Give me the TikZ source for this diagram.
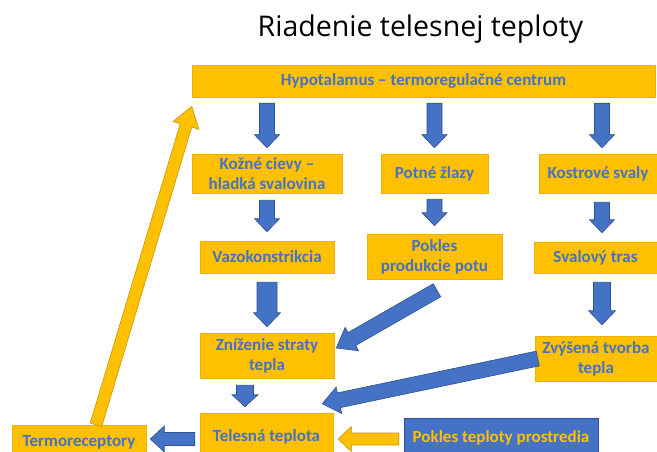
\documentclass[tikz,border=0pt]{standalone}
\usepackage{fontspec}
\setmainfont{Carlito}
\newfontfamily\titlefont{Open Sans}
\usetikzlibrary{calc}
\definecolor{gold}{HTML}{FFC000}
\definecolor{goldline}{HTML}{EDB200}
\definecolor{goldarrline}{HTML}{C99700}
\definecolor{bblue}{HTML}{4472C4}
\definecolor{bblueline}{HTML}{2F528F}
% #1 style, #2 from, #3 to, #4 half shaft, #5 half head, #6 head length, #7 shorten start, #8 shorten end
\newcommand\blockarrow[8]{%
  \draw[#1] let \p1=($(#3)-(#2)$), \n1={veclen(\x1,\y1)}, \n2={atan2(\y1,\x1)} in
    [shift={(#2)}, rotate=\n2]
    (#7pt,-#4pt) -- ({\n1-#8pt-#6pt},-#4pt) -- ({\n1-#8pt-#6pt},-#5pt) -- ({\n1-#8pt},0pt)
    -- ({\n1-#8pt-#6pt},#5pt) -- ({\n1-#8pt-#6pt},#4pt) -- (#7pt,#4pt) -- cycle;}
\tikzset{
  box/.style={fill=gold, draw=goldline, line width=0.5pt, text=bblue, align=center,
    inner sep=0pt, font=\bfseries\fontsize{17}{20}\selectfont},
  bluebox/.style={box, fill=bblue, draw=bblueline, text=gold},
  bluearr/.style={fill=bblue, draw=bblueline, line width=0.6pt, line join=miter},
  goldarr/.style={fill=gold, draw=goldarrline, line width=0.6pt, line join=miter},
  titletext/.style={font=\titlefont\fontsize{28.5}{32}\selectfont, text=black, inner sep=0pt, anchor=base},
}
\begin{document}
\begin{tikzpicture}[x=1pt, y=-1pt]
\useasboundingbox (0,0) rectangle (657,452);
\fill[white] (0,0) rectangle (657,452);
\clip (0,0) rectangle (657,452);

\node[titletext] (ttl) at (420.5,36.5) {Riadenie telesnej teploty};

\node[box, minimum width=463pt, minimum height=32pt] (hyp) at (423.5,81) {Hypotalamus – termoregulačné centrum};

\node[box, minimum width=150pt, minimum height=39pt] (koz) at (267,173.5) {Kožné cievy –\\hladká svalovina};
\node[box, minimum width=107pt, minimum height=39pt] (pot) at (434.5,173.5) {Potné žlazy};
\node[box, minimum width=118pt, minimum height=39pt] (kos) at (598,173.5) {Kostrové svaly};

\node[box, minimum width=134pt, minimum height=32pt] (vaz) at (267,257) {Vazokonstrikcia};
\node[box, minimum width=135pt, minimum height=45pt] (pok) at (434.5,256.5) {Pokles\\produkcie potu};
\node[box, minimum width=123pt, minimum height=31pt] (sva) at (595.5,257.5) {Svalový tras};

\node[box, minimum width=134pt, minimum height=45pt] (zni) at (267,355.5) {Zníženie straty\\tepla};
\node[box, minimum width=122pt, minimum height=45pt] (zvy) at (596,358.5) {Zvýšená tvorba\\tepla};

\node[box, minimum width=133pt, minimum height=48pt] (tel) at (266.5,437) {Telesná teplota};
\node[box, minimum width=134pt, minimum height=34pt] (ter) at (79,442) {Termoreceptory};
\node[bluebox, minimum width=194pt, minimum height=40pt] (pts) at (501,438) {Pokles teploty prostredia};

% helper coordinates
\coordinate (kx) at ($(kos.north)+(4,0)$);
\coordinate (zx) at ($(zni.south)+(-22,0)$);
\coordinate (ty) at ($(tel.west)+(0,2)$);
\coordinate (pokt) at ($(pok.south)+(2.5,11)$);
\coordinate (znih) at ($(zni.east)+(2,-7.5)$);
\coordinate (zvyt) at ($(zvy.west)+(3,0)$);
\coordinate (telh) at ($(tel.north east)+(-11,-9)$);
\coordinate (tert) at ($(ter.north)+(17,0)$);
\coordinate (hyph) at ($(hyp.south west)+(0,9)$);

% connectors
\blockarrow{bluearr}{hyp.south -| koz.north}{koz.north}{7.5}{12.5}{13}{6}{6}
\blockarrow{bluearr}{hyp.south -| pot.north}{pot.north}{7.5}{12.5}{13}{6}{6}
\blockarrow{bluearr}{hyp.south -| kx}{kx}{7.5}{12.5}{13}{6}{6}

\blockarrow{bluearr}{koz.south}{vaz.north}{7.5}{12.5}{13}{7}{9}
\blockarrow{bluearr}{pot.south}{pok.north}{7.5}{12.5}{13}{6}{8}
\blockarrow{bluearr}{kos.south -| kx}{sva.north -| kx}{7.5}{12.5}{13}{9}{9}

\blockarrow{bluearr}{vaz.south}{zni.north}{10}{13.5}{14}{9}{6}
\blockarrow{bluearr}{sva.south -| kx}{zvy.north -| kx}{8.5}{13.5}{14}{9}{11}
\blockarrow{bluearr}{pokt}{znih}{7.5}{13.5}{18}{0}{0}
\blockarrow{bluearr}{zvyt}{telh}{7.5}{13.5}{17}{0}{0}

\blockarrow{bluearr}{zx}{tel.north -| zx}{8.5}{13}{12}{7}{6}
\blockarrow{bluearr}{ty}{ter.east |- ty}{6.5}{13}{14}{5}{4}
\blockarrow{goldarr}{pts.west |- ty}{tel.east |- ty}{6}{12.5}{13}{5}{5}
\blockarrow{goldarr}{tert}{hyph}{6}{13.5}{20}{0}{0}
\end{tikzpicture}
\end{document}
